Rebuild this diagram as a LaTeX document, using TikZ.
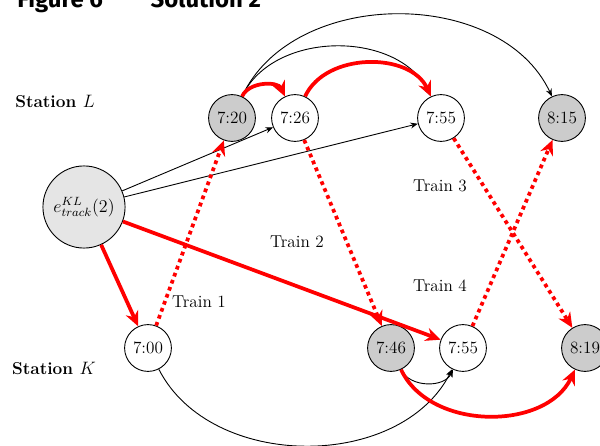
\documentclass[tikz,border=0pt]{standalone}
\usepackage{fontspec}
\newfontfamily\titlefont{Fira Sans}
\usetikzlibrary{arrows.meta}
\tikzset{
  every node/.style={font=\fontsize{11.5}{14}\selectfont},
  event/.style={circle, draw, semithick, inner sep=0pt, minimum size=1.1cm},
  late/.style={event, fill=gray!40},
  track/.style={circle, draw, semithick, inner sep=0pt, minimum size=1.93cm, fill=gray!20},
  link/.style={-{Stealth[length=5pt,width=4pt]}, semithick},
  chosen/.style={-{Stealth[length=10pt,width=9pt]}, red, line width=2.5pt},
  run/.style={chosen, dash pattern=on 2.5pt off 2.5pt},
}

\begin{document}
\begin{tikzpicture}[x=0.0235cm, y=0.0235cm]
    \useasboundingbox (0,0) rectangle (600,446);
    \node[anchor=base west, font=\titlefont\bfseries\fontsize{16}{18}\selectfont] (title) at (12,438) {Figure 6\hspace{2em}Solution 2};
    \node[font=\fontsize{11.5}{14}\selectfont\bfseries] (stL) at (55,345) {Station $L$};
    \node[font=\fontsize{11.5}{14}\selectfont\bfseries] (stK) at (54,78) {Station $K$};
    % station L
    \node[late] (t720) at (232,328) {7:20};
    \node[event] (t726) at (295,328) {7:26};
    \node[event] (t755L) at (441,328) {7:55};
    \node[late] (t815) at (562,328) {8:15};
    % station K
    \node[event] (t700) at (148,98) {7:00};
    \node[late] (t746) at (391,98) {7:46};
    \node[event] (t755K) at (463,98) {7:55};
    \node[late] (t819) at (585,98) {8:19};
    \node[track] (e) at (84,239) {$e^{KL}_{track}(2)$};
    % trains
    \node (tr1) at (199,144) {Train 1};
    \node (tr2) at (297,204) {Train 2};
    \node (tr3) at (440,260) {Train 3};
    \node (tr4) at (440,160) {Train 4};
    % black arcs
    \draw[link] (t720) to[bend left=65] (t815);
    \draw[link] (t720) to[bend left=65] (t755L);
    \draw[link] (e) -- (t726);
    \draw[link] (e) -- (t755L);
    \draw[link] (t700) to[bend right=63] (t755K);
    \draw[link] (t746) to[bend right=65] (t755K);
    % red
    \draw[run] (t700) -- (t720);
    \draw[run] (t726) -- (t746);
    \draw[run] (t755L) -- (t819);
    \draw[run] (t755K) -- (t815);
    \draw[chosen] (t720) to[bend left=65] (t726);
    \draw[chosen] (t726) to[bend left=65] (t755L);
    \draw[chosen] (e) -- (t700);
    \draw[chosen] (e) -- (t755K);
    \draw[chosen] (t746) to[bend right=65] (t819);
\end{tikzpicture}
\end{document}
